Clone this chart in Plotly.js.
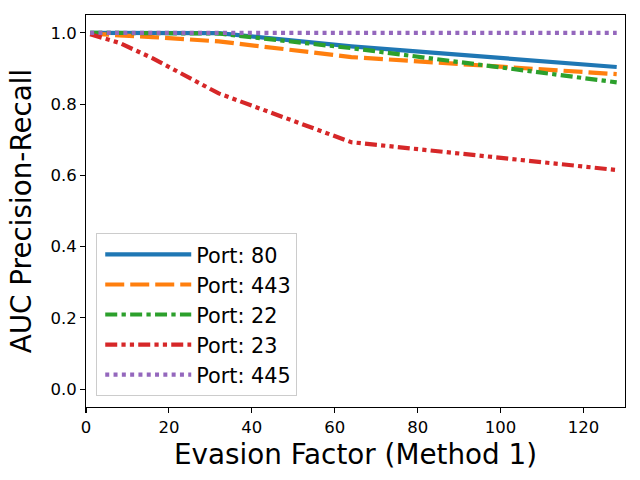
<!DOCTYPE html>
<html>
<head>
<meta charset="utf-8">
<script src="https://cdn.plot.ly/plotly-3.0.1.min.js"></script>
<style>
  html, body { margin: 0; padding: 0; background: #fff; }
  #chart { width: 640px; height: 480px; }
</style>
</head>
<body>
<div id="chart"></div>
<script>
// evasion factor values (x) and AUC per port
const evasion = [1, 2, 4, 8, 16, 32, 64, 128];
const port80 = [1.0, 1.0, 1.0, 1.0, 1.0, 0.999, 0.962, 0.904];
const port443 = [0.998, 0.997, 0.996, 0.993, 0.988, 0.976, 0.932, 0.884];
const port22 = [1.0, 1.0, 1.0, 1.0, 1.0, 0.998, 0.957, 0.861];
const port23 = [0.996, 0.993, 0.985, 0.972, 0.929, 0.83, 0.693, 0.615];
const port445 = [1.0, 1.0, 1.0, 1.0, 1.0, 1.0, 1.0, 1.0];

const names = ['Port: 80', 'Port: 443', 'Port: 22', 'Port: 23', 'Port: 445'];
const series = [port80, port443, port22, port23, port445];
const colors = ['#1f77b4', '#ff7f0e', '#2ca02c', '#d62728', '#9467bd'];
const dashes = [
  'solid',
  '19px,6px',
  '12px,4.3px,4.3px,4.3px',
  '12px,4.2px,4.2px,4.2px,4.2px,4.2px',
  '4px,4.3px',
];

const data = series.map((ys, i) => ({
  x: evasion,
  y: ys,
  type: 'scatter',
  mode: 'lines',
  name: names[i],
  line: { color: colors[i], width: 4.2, dash: dashes[i] },
}));

const font = 'DejaVu Sans, sans-serif';

const axisCommon = {
  showline: true,
  mirror: true,
  linecolor: '#000',
  linewidth: 1.1,
  showgrid: false,
  zeroline: false,
  ticks: 'outside',
  ticklen: 4.9,
  tickwidth: 1.1,
  tickcolor: '#000',
  tickfont: { family: font, size: 16.5, color: '#000' },
};

const layout = {
  width: 640,
  height: 480,
  margin: { l: 86, r: 15, t: 15, b: 73 },
  paper_bgcolor: '#fff',
  plot_bgcolor: '#fff',
  showlegend: true,
  xaxis: Object.assign({}, axisCommon, {
    range: [0, 130],
    tickvals: [0, 20, 40, 60, 80, 100, 120],
    title: { text: 'Evasion Factor (Method 1)', font: { family: font, size: 27.8, color: '#000' }, standoff: 8 },
  }),
  yaxis: Object.assign({}, axisCommon, {
    range: [-0.05, 1.05],
    tickvals: [0, 0.2, 0.4, 0.6, 0.8, 1.0],
    tickformat: '.1f',
    title: { text: 'AUC Precision-Recall', font: { family: font, size: 27.8, color: '#000' }, standoff: 10 },
  }),
  legend: {
    x: 0.019,
    y: 0.027,
    xanchor: 'left',
    yanchor: 'bottom',
    bgcolor: 'rgba(255,255,255,0.8)',
    bordercolor: '#cccccc',
    borderwidth: 1,
    indentation: 3,
    itemwidth: 86,
    font: { family: font, size: 20.8, color: '#000' },
  },
};

Plotly.newPlot('chart', data, layout, { staticPlot: true });
</script>
</body>
</html>
